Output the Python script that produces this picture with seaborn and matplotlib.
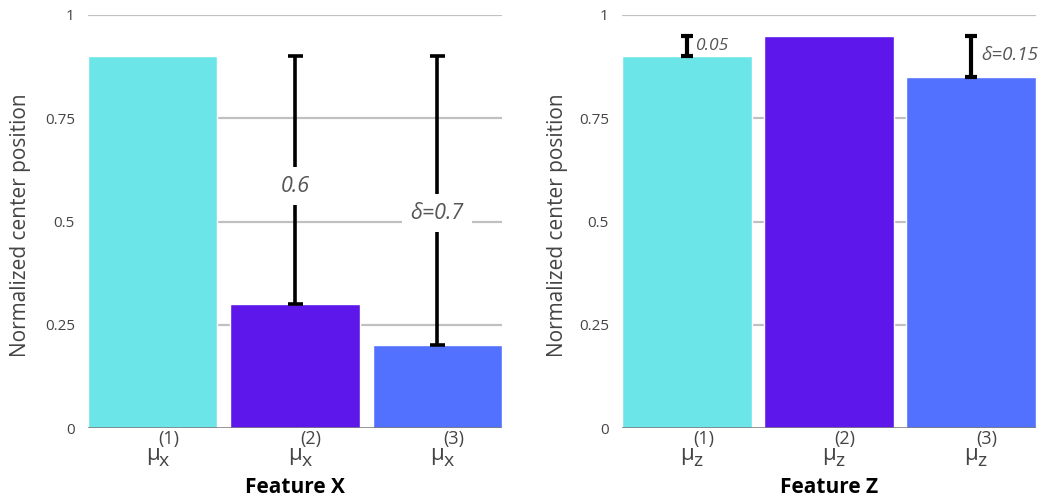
import numpy as np
import pandas as pd
import matplotlib
matplotlib.use("Agg")
import matplotlib.pyplot as plt
import seaborn as sns

# data
components = ["1", "2", "3"]
center_x = [0.9, 0.3, 0.2]
center_z = [0.9, 0.95, 0.85]

# spread markers: (bar index, low, high, label)
spread_x = [(1, 0.3, 0.9, "0.6"), (2, 0.2, 0.9, "δ=0.7")]
spread_z = [(0, 0.9, 0.95, "0.05"), (2, 0.85, 0.95, "δ=0.15")]

yticks = [0, 0.25, 0.5, 0.75, 1]
ytick_labels = ["0", "0.25", "0.5", "0.75", "1"]

colors = ["#6ce5e8", "#5d17eb", "#5271ff"]

sns.set_theme(style="white")
plt.rcParams["font.family"] = ["Open Sans", "DejaVu Sans"]

fig = plt.figure(figsize=(10.43, 5.04), dpi=100)
ax1 = fig.add_axes([88 / 1043, 76 / 504, 414 / 1043, 413 / 504])
ax2 = fig.add_axes([622 / 1043, 76 / 504, 414 / 1043, 413 / 504])


def draw_panel(ax, values, spreads, feat, width, label_style, ylab_x, lw):
    df = pd.DataFrame({"comp": components, "val": values})
    sns.barplot(data=df, x="comp", y="val", hue="comp", palette=colors,
                width=width, saturation=1, legend=False, ax=ax, zorder=2)
    ax.set_xlim(-width / 2, 2 + width / 2)
    ax.set_ylim(0, 1)
    ax.set_yticks(yticks)
    ax.set_yticklabels(ytick_labels)
    for t in yticks[1:]:
        ax.axhline(t, color="#c0c0c0", lw=1.6, zorder=1)
    ax.axhline(0, color="#777777", lw=1.8, zorder=3)
    sns.despine(ax=ax, left=True, bottom=True)
    ax.tick_params(axis="y", length=0, pad=9.5, labelsize=11, labelcolor="#444444")
    ax.set_xticks(range(3))
    ax.set_xticklabels([])
    ax.tick_params(axis="x", length=0)

    # tick labels: mu with subscript feature and superscript component
    for i, c in enumerate(components):
        kw = dict(xy=(i, 0), xycoords=("data", "axes fraction"),
                  textcoords="offset points", va="baseline", color="#444444",
                  annotation_clip=False)
        ax.annotate("µ", xytext=(0, -23), ha="center", fontsize=16, **kw)
        ax.annotate(feat.lower(), xytext=(4.5, -27), ha="left", fontsize=14, **kw)
        ax.annotate("(%s)" % c, xytext=(4, -11.5), ha="left", fontsize=13, **kw)

    ax.set_ylabel("Normalized center position", fontsize=15, color="#444444")
    ax.yaxis.set_label_coords(ylab_x, 0.49)
    ax.set_xlabel("Feature " + feat, fontsize=15, fontweight="bold",
                  color="black")
    ax.xaxis.set_label_coords(0.5, -0.118)
    for (i, lo, hi, txt), st in zip(spreads, label_style):
        ax.errorbar(i, (lo + hi) / 2, yerr=(hi - lo) / 2, fmt="none",
                    ecolor="black", elinewidth=lw, capsize=st["cap"],
                    capthick=lw, zorder=4)
        ax.text(i + st["dx"], st["y"], txt, fontsize=st["size"],
                style="italic", color="#555555", ha=st["ha"], va="center",
                zorder=5,
                bbox=dict(facecolor="white", edgecolor="none", pad=st["pad"]))


draw_panel(ax1, center_x, spread_x, "X", 0.91,
           [dict(dx=0, y=0.585, size=15.5, ha="center", pad=6, cap=5.4),
            dict(dx=0, y=0.52, size=15.5, ha="center", pad=6, cap=5.4)],
           -0.138, 2.6)
draw_panel(ax2, center_z, spread_z, "Z", 0.92,
           [dict(dx=0.065, y=0.925, size=12.5, ha="left", pad=0.5, cap=4.3),
            dict(dx=0.075, y=0.903, size=13.5, ha="left", pad=0.5, cap=4.3)],
           -0.13, 3.0)

fig.savefig("out.png", dpi=100)
